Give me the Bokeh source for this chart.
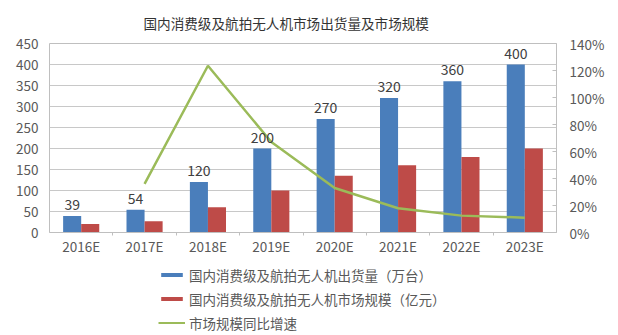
from bokeh.plotting import figure
from bokeh.layouts import column
from bokeh.models import (Range1d, LinearAxis, FixedTicker, Legend, LegendItem,
                          ColumnDataSource, LabelSet)
from bokeh.core.properties import value
from bokeh.embed import file_html
from bokeh.resources import INLINE

categories = ["2016E", "2017E", "2018E", "2019E", "2020E", "2021E", "2022E", "2023E"]
shipments = [39, 54, 120, 200, 270, 320, 360, 400]          # 万台
market_size = [20, 27, 60, 100, 135, 160, 180, 200]          # 亿元
growth_years = ["2017E", "2018E", "2019E", "2020E", "2021E", "2022E", "2023E"]
growth_pct = [36, 123.5, 67, 33, 18, 12.5, 11]               # %
left_ticks = list(range(0, 451, 50))
right_ticks = list(range(0, 141, 20))

title_text = "国内消费级及航拍无人机市场出货量及市场规模"
legend_labels = ["国内消费级及航拍无人机出货量（万台）",
                 "国内消费级及航拍无人机市场规模（亿元）",
                 "市场规模同比增速"]

BLUE = "#4A7EBB"
RED = "#BE4B48"
GREEN = "#9BBB59"
FONT = "Noto Sans CJK SC"
TXT = "#595959"

idx = {c: i + 0.5 for i, c in enumerate(categories)}
xc = [idx[c] for c in categories]
bar_w = 0.285
src = ColumnDataSource(dict(
    xb=[x - bar_w / 2 for x in xc],
    xr=[x + bar_w / 2 for x in xc],
    ship=shipments, size=market_size,
    lab=[str(v) for v in shipments],
))
gsrc = ColumnDataSource(dict(x=[idx[c] for c in growth_years], y=growth_pct))

p = figure(width=618, height=260, output_backend="svg", toolbar_location=None,
           x_range=Range1d(0, len(categories)), y_range=Range1d(0, 450),
           min_border_left=49, min_border_right=62, min_border_top=43, min_border_bottom=28)
p.extra_y_ranges = {"pct": Range1d(0, 140)}

p.title.text = title_text
p.title.text_font = FONT
p.title.text_font_size = "13.6px"
p.title.text_font_style = "normal"
p.title.text_color = "#333333"
p.title.align = "left"
p.title.offset = 94
p.title.standoff = 21

p.outline_line_color = "#BFBFBF"
p.background_fill_color = "white"
p.border_fill_color = "white"

rb = p.vbar(x="xb", top="ship", width=bar_w, source=src, fill_color=BLUE, line_color=None)
rr = p.vbar(x="xr", top="size", width=bar_w, source=src, fill_color=RED, line_color=None)
rl = p.line(x="x", y="y", source=gsrc, y_range_name="pct", line_color=GREEN, line_width=2.5)

labels = LabelSet(x="xb", y="ship", text="lab", source=src, text_align="center",
                  text_baseline="bottom", y_offset=6, text_font=value(FONT),
                  text_font_size=value("14px"), text_color="#404040")
p.add_layout(labels)

# x axis
xa = p.xaxis[0]
xa.ticker = FixedTicker(ticks=xc, minor_ticks=list(range(1, len(categories))))
xa.major_label_overrides = {x: c for x, c in zip(xc, categories)}
xa.major_tick_line_color = None
xa.major_tick_out = 0
xa.major_tick_in = 0
xa.minor_tick_line_color = "#BFBFBF"
xa.minor_tick_in = 0
xa.minor_tick_out = 3
xa.axis_line_color = "#BFBFBF"
xa.major_label_text_font = FONT
xa.major_label_text_font_size = "13.5px"
xa.major_label_text_color = TXT
xa.major_label_standoff = 0

# left axis
ya = p.yaxis[0]
ya.ticker = FixedTicker(ticks=left_ticks)
ya.axis_line_color = None
ya.major_tick_line_color = None
ya.major_tick_out = 0
ya.minor_tick_line_color = None
ya.major_label_text_font = FONT
ya.major_label_text_font_size = "13.5px"
ya.major_label_text_color = TXT
ya.major_label_standoff = 11

# right axis
ra = LinearAxis(y_range_name="pct", ticker=FixedTicker(ticks=right_ticks))
ra.major_label_overrides = {v: f"{v}%" for v in right_ticks}
ra.axis_line_color = None
ra.major_tick_line_color = "#BFBFBF"
ra.major_tick_in = 4
ra.major_tick_out = 0
ra.minor_tick_line_color = None
ra.major_label_text_font = FONT
ra.major_label_text_font_size = "13.5px"
ra.major_label_text_color = TXT
ra.major_label_standoff = 13
p.add_layout(ra, "right")

p.xgrid.visible = False
p.ygrid.grid_line_color = "#C8C8C8"
p.ygrid.ticker = FixedTicker(ticks=left_ticks[1:])

# legend strip below the chart (its glyphs fall far below this strip's visible range)
q = figure(width=618, height=75, output_backend="svg", toolbar_location=None,
           x_range=Range1d(0, len(categories)), y_range=Range1d(5000, 5001),
           min_border_left=49, min_border_right=62, min_border_top=0, min_border_bottom=0)
q.axis.visible = False
q.grid.visible = False
q.outline_line_color = None
q.border_fill_color = "white"
q.background_fill_color = "white"
qb = q.vbar(x="xb", top="ship", width=bar_w, source=src, fill_color=BLUE, line_color=None)
qr = q.vbar(x="xr", top="size", width=bar_w, source=src, fill_color=RED, line_color=None)
ql = q.line(x="x", y="y", source=gsrc, line_color=GREEN, line_width=2)

legend = Legend(items=[LegendItem(label=legend_labels[0], renderers=[qb]),
                       LegendItem(label=legend_labels[1], renderers=[qr]),
                       LegendItem(label=legend_labels[2], renderers=[ql])],
                orientation="vertical", location=(109, 2.5))
legend.border_line_color = None
legend.background_fill_alpha = 0
legend.glyph_width = 27
legend.glyph_height = 5
legend.label_height = 19
legend.spacing = 4
legend.padding = 2
legend.margin = 0
legend.label_text_font = FONT
legend.label_text_font_size = "13.5px"
legend.label_text_color = TXT
legend.label_standoff = 4
q.add_layout(legend, "center")

layout = column(p, q, spacing=0)
open("out.html", "w").write(file_html(layout, INLINE))
